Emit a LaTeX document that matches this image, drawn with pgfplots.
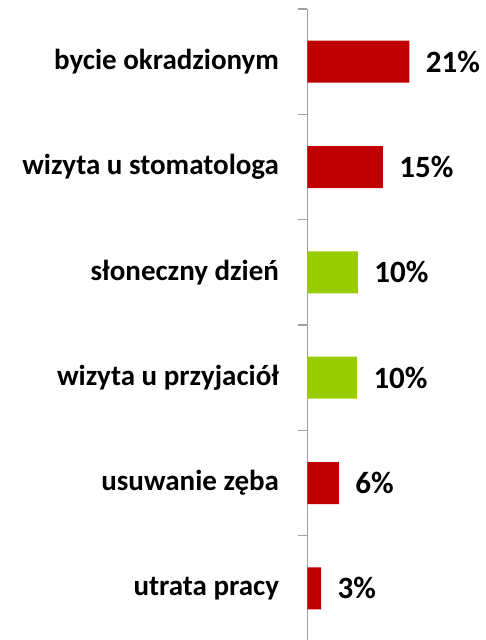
\documentclass[border=0pt]{standalone}
\usepackage{pgfplots}
\pgfplotsset{compat=1.18}
\usepackage{fontspec}
\setmainfont{Carlito}
\definecolor{barred}{HTML}{C00000}
\definecolor{bargreen}{HTML}{99CC00}
\definecolor{axgray}{HTML}{A0A0A0}
\begin{document}
\begin{tikzpicture}
\begin{axis}[
    name=ax,
    scale only axis,
    width=147pt, height=632pt,
    xbar, bar width=42pt, bar shift=0pt,
    xmin=0, xmax=30,
    ymin=-0.5, ymax=5.5,
    y dir=reverse,
    axis x line=none,
    axis y line*=left,
    y axis line style={axgray, line width=1.6pt},
    ytick={0,...,5},
    yticklabels={bycie okradzionym, wizyta u stomatologa, słoneczny dzień,
        wizyta u przyjaciół, usuwanie zęba, utrata pracy},
    major tick length=0pt,
    minor ytick={-0.5,0.5,...,5.5},
    minor tick length=9pt,
    tick align=outside,
    ytick pos=left,
    minor tick style={axgray, line width=1.6pt},
    yticklabel style={font=\fontsize{29}{34}\selectfont\bfseries, xshift=-25pt},
    point meta=x,
    nodes near coords={\pgfmathprintnumber{\pgfplotspointmeta}\%},
    nodes near coords style={font=\fontsize{31}{36}\selectfont\bfseries, anchor=west, xshift=13pt, black},
    every node near coord/.append style={/pgf/number format/.cd, fixed, precision=0, assume math mode=true},
    clip=false,
]
\addplot[fill=barred, draw=none] coordinates {
    (20.8,0) (15.4,1) (6.4,4) (2.8,5)
};
\addplot[fill=bargreen, draw=none] coordinates {
    (10.3,2) (10.1,3)
};
\end{axis}
\pgfresetboundingbox
\path[use as bounding box] ([xshift=-307.5pt,yshift=1pt]ax.south west) rectangle ([xshift=177.5pt,yshift=9pt]ax.north west);
\end{tikzpicture}
\end{document}
